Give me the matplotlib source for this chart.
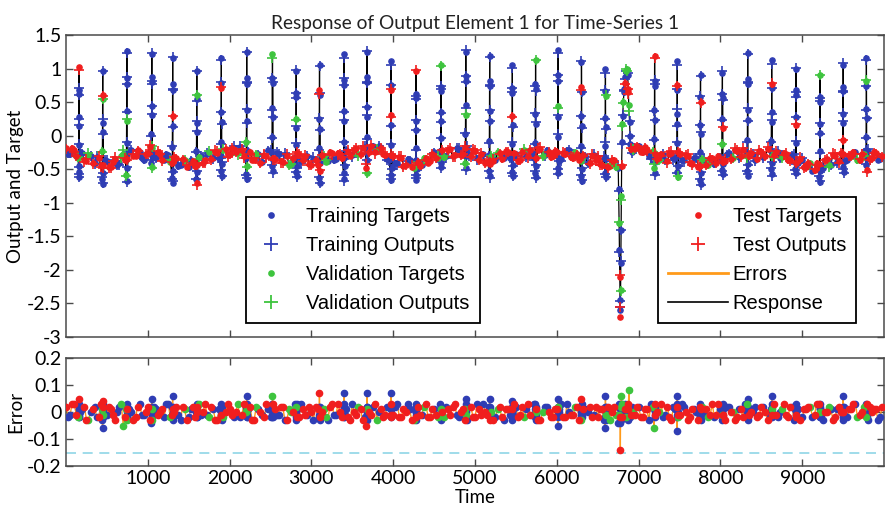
import numpy as np
import matplotlib
matplotlib.use("Agg")
import matplotlib.pyplot as plt
from matplotlib.lines import Line2D

# ---------------- data ----------------
title_text = "Response of Output Element 1 for Time-Series 1"
x_ticks = [1000, 2000, 3000, 4000, 5000, 6000, 7000, 8000, 9000]
y1_ticks = [-3, -2.5, -2, -1.5, -1, -0.5, 0, 0.5, 1, 1.5]
y1_labels = ["-3", "-2.5", "-2", "-1.5", "-1", "-0.5", "0", "0.5", "1", "1.5"]
y2_ticks = [-0.2, -0.1, 0, 0.1, 0.2]
y2_labels = ["-0.2", "-0.1", "0", "0.1", "0.2"]
error_ref_level = -0.15

# baseline samples, grid A at t = 1 + 50k, grid B at t = 26 + 50k
base_step = 50
base_a_start = 1
base_b_start = 26
base_a_values = [
    -0.18, -0.27, -0.22, -0.34, -0.26, -0.38, -0.31, -0.40, -0.33, -0.44,
    -0.38, -0.47, -0.35, -0.41, -0.27, -0.35, -0.22, -0.30, -0.24, -0.36,
    -0.26, -0.19, -0.33, -0.27, -0.36, -0.29, -0.40, -0.33, -0.44, -0.36,
    -0.47, -0.38, -0.43, -0.31, -0.37, -0.25, -0.34, -0.26, -0.31, -0.20,
    -0.27, -0.18, -0.26, -0.21, -0.33, -0.25, -0.37, -0.28, -0.39, -0.30,
    -0.24, -0.35, -0.28, -0.39, -0.31, -0.42, -0.34, -0.29, -0.37, -0.31,
    -0.44, -0.36, -0.41, -0.30, -0.38, -0.26, -0.35, -0.27, -0.33, -0.24,
    -0.29, -0.19, -0.27, -0.17, -0.25, -0.16, -0.23, -0.18, -0.29, -0.36,
    -0.31, -0.40, -0.33, -0.44, -0.37, -0.48, -0.39, -0.43, -0.33, -0.38,
    -0.25, -0.33, -0.22, -0.31, -0.20, -0.29, -0.21, -0.27, -0.19, -0.30,
    -0.23, -0.36, -0.28, -0.39, -0.31, -0.37, -0.26, -0.34, -0.24, -0.33,
    -0.28, -0.37, -0.22, -0.30, -0.26, -0.33, -0.20, -0.29, -0.24, -0.31,
    -0.25, -0.35, -0.28, -0.22, -0.33, -0.27, -0.38, -0.31, -0.40, -0.29,
    -0.33, -0.43, -0.35, -0.45, -0.37, -0.48, 0.18, 0.97, -0.12, -0.19,
    -0.16, -0.25, -0.22, -0.32, -0.27, -0.36, -0.29, -0.38, -0.26, -0.33,
    -0.27, -0.37, -0.31, -0.42, -0.34, -0.45, -0.36, -0.44, -0.33, -0.41,
    -0.32, -0.38, -0.26, -0.34, -0.23, -0.31, -0.22, -0.30, -0.27, -0.35,
    -0.24, -0.31, -0.21, -0.29, -0.25, -0.32, -0.27, -0.36, -0.30, -0.40,
    -0.36, -0.46, -0.41, -0.51, -0.42, -0.48, -0.35, -0.43, -0.30, -0.38,
    -0.27, -0.37, -0.30, -0.25, -0.36, -0.28, -0.23, -0.34, -0.26, -0.35,
]
base_b_values = [
    -0.28, -0.19, -0.31, -0.25, -0.37, -0.29, -0.41, -0.32, -0.43, -0.37,
    -0.46, -0.39, -0.44, -0.30, -0.36, -0.24, -0.31, -0.21, -0.33, -0.27,
    -0.17, -0.28, -0.24, -0.37, -0.28, -0.39, -0.32, -0.45, -0.35, -0.46,
    -0.37, -0.45, -0.32, -0.40, -0.27, -0.35, -0.24, -0.33, -0.22, -0.29,
    -0.19, -0.25, -0.17, -0.31, -0.23, -0.36, -0.27, -0.40, -0.29, -0.22,
    -0.33, -0.26, -0.38, -0.29, -0.43, -0.33, -0.26, -0.38, -0.30, -0.42,
    -0.35, -0.43, -0.29, -0.39, -0.25, -0.36, -0.26, -0.34, -0.22, -0.30,
    -0.21, -0.28, -0.18, -0.26, -0.15, -0.24, -0.15, -0.27, -0.35, -0.29,
    -0.41, -0.32, -0.45, -0.35, -0.47, -0.37, -0.45, -0.34, -0.40, -0.27,
    -0.34, -0.23, -0.32, -0.21, -0.30, -0.19, -0.29, -0.18, -0.28, -0.22,
    -0.34, -0.27, -0.40, -0.29, -0.38, -0.25, -0.35, -0.23, -0.34, -0.26,
    -0.38, -0.24, -0.31, -0.22, -0.34, -0.21, -0.30, -0.22, -0.32, -0.23,
    -0.34, -0.26, -0.21, -0.32, -0.25, -0.37, -0.29, -0.41, -0.30, -0.36,
    -0.42, -0.34, -0.46, -0.36, -0.46, -2.60, 0.70, 0.65, -0.22, -0.15,
    -0.24, -0.17, -0.31, -0.23, -0.35, -0.28, -0.37, -0.27, -0.34, -0.25,
    -0.36, -0.29, -0.41, -0.33, -0.46, -0.35, -0.43, -0.34, -0.42, -0.31,
    -0.39, -0.27, -0.35, -0.22, -0.32, -0.21, -0.31, -0.26, -0.36, -0.23,
    -0.32, -0.20, -0.30, -0.24, -0.33, -0.26, -0.37, -0.29, -0.41, -0.35,
    -0.47, -0.40, -0.52, -0.41, -0.49, -0.36, -0.44, -0.29, -0.39, -0.26,
    -0.38, -0.29, -0.24, -0.37, -0.27, -0.22, -0.35, -0.25, -0.36, -0.30,
]
# errors in hundredths
base_a_err = [
    2, -1, 3, -2, 1, -3, 0, 2, -2, 4,
    -1, 1, -3, 2, -5, 1, 0, -2, 3, -1,
    2, -3, 1, 0, -2, 3, -1, 2, -3, 1,
    -2, 2, 0, -1, 3, -2, 1, -3, 2, 0,
    1, -2, 3, -1, 0, 2, -3, 1, -1, 3,
    -2, 1, -1, 2, -3, 0, 3, -2, 1, -1,
    0, 2, -2, 1, -3, 3, -1, 0, 2, -2,
    3, -1, 1, -2, 0, 2, -3, 1, -1, 2,
    -1, 3, -2, 0, 1, -3, 2, -1, 3, -2,
    1, -2, 0, 2, -1, 3, -2, 1, -3, 2,
    -2, 1, 3, -1, 0, -2, 2, -3, 1, 0,
    2, -1, -2, 3, -1, 1, -3, 2, 0, -2,
    1, 3, -2, 0, -1, 2, -3, 1, 2, -1,
    -2, 1, 0, -3, 2, -4, 3, -2, 1, -1,
    2, -2, 1, 3, -1, 0, -2, 2, -3, 1,
    -1, 2, -3, 1, 0, 2, -1, -2, 3, -1,
    1, -3, 2, 0, -2, 1, 3, -1, 0, -2,
    2, 0, -1, 3, -2, 1, -1, 2, -3, 1,
    -2, 1, 2, -1, 3, -3, 0, 1, -2, 2,
    0, -2, 1, 3, -1, 2, -3, 0, 1, -2,
]
base_b_err = [
    -2, 3, -1, 0, 2, -3, 1, -2, 3, -1,
    2, -1, 0, 3, -2, 1, -3, 2, -1, 0,
    -3, 2, -1, 1, 3, -2, 0, -1, 2, -3,
    1, -2, 3, 0, -1, 2, -3, 1, -2, 3,
    -1, 0, -2, 3, 1, -3, 2, 0, -2, 1,
    3, -1, 2, -3, 1, 0, -2, 3, -1, 2,
    -3, 1, 0, -2, 2, -1, 3, -2, 1, -3,
    0, 2, -3, 1, -1, 3, 0, -2, 2, -1,
    2, -2, 1, 3, -3, 0, -1, 2, -2, 1,
    -1, 3, -2, 1, 2, -1, 0, -3, 2, -2,
    3, -1, 0, 2, -3, 1, -2, 1, -1, 3,
    -2, 2, 1, -1, 3, -3, 0, 2, -2, 1,
    0, -2, 3, -1, 2, -3, 1, 0, -2, 2,
    1, -3, 2, 0, -1, -4, 2, 3, -1, 2,
    -2, 1, -3, 2, 0, 3, -1, -2, 2, -1,
    3, 0, -2, 1, -3, 2, 1, -1, -2, 3,
    -1, 2, 0, -3, 1, -2, 3, 0, 2, -1,
    2, -3, 1, -1, 0, 3, -2, 2, -1, -3,
    1, 2, -2, 3, -1, 0, 2, -3, 1, 0,
    -2, 1, 3, -2, 0, -1, 2, 1, -3, 2,
]
# data division: T = training, V = validation, S = test
base_a_split = (
    "STSVTSTTSS" "TSSTVSTSTT" "SVTSTTSSTV" "TSSTSVTSTS" "STVSTSSTTS"
    "TSTSSVTSST" "SSTVTSTSTS" "TSSTSTVSST" "STSSTVSTSS" "TVSTSSTSTS"
    "SSTSVTSTST" "TSVSTSSTSS" "STSTSSVTST" "SSTVSTVVTS" "TSSTSVTSST"
    "STSSTSTVSS" "TSTVSSTSTS" "SSTSTVSSTT" "TSVSSTSTSS" "STSTSVTSST"
)
base_b_split = (
    "TSSTSVSTST" "SSTVSTSSTS" "STSSTVSTSS" "TSVSTSSTVS" "SSTSTSVSST"
    "STSTVSSTSS" "TSSVSTSSTS" "SVSTSSTSTS" "TSSTSTSVSS" "STVSSTSSTS"
    "TSSTSVSSTS" "SSTSTSVTSS" "TSTSVSSTSS" "STSSVTTSVS" "SSTVSSTSTS"
    "TSSTSVSSTS" "STSSTSVSTS" "TSVSTSSTSS" "SSTSTSVSTS" "TSSVSTSSTS"
)

spike_times = [160, 450, 745, 1050, 1305, 1600, 1900, 2210, 2525, 2815,
               3100, 3400, 3680, 3975, 4280, 4585, 4888, 5180, 5457, 5741,
               6017, 6302, 6595, 7196, 7473, 7757, 8025, 8334, 8627, 8924,
               9217, 9501, 9785]
spike_peaks = [1.03, 0.96, 1.26, 1.22, 1.15, 0.96, 1.15, 1.25, 1.22, 0.97,
               1.05, 1.22, 1.25, 1.12, 0.96, 1.05, 1.25, 1.18, 1.05, 1.13,
               1.28, 1.10, 1.00, 1.18, 1.12, 0.91, 0.94, 1.23, 1.13, 1.00,
               0.90, 1.06, 1.16]
# shape of one pulse: sample offsets and level as
# a fraction of the rise from the local baseline to the peak
pulse_offsets = [-6, -4, -2, -1, 0, 1, 2, 4, 6]
pulse_shape = [-0.15, 0.15, 0.45, 0.75, 1.0, 0.7, 0.35, -0.2, -0.08]
spike_split = [
    "TTTTSTTTT", "TVTSTVTTT", "VTTTTTVTT", "TTTTTTTVT", "TTSTTTTTT",
    "TTTVTTTST", "TTTTTSTTT", "TVTTTTTTV", "TTTTVTTTT", "TTVTTTTTT",
    "TTTSTTTTS", "TTTTTTTTT", "STTTTTTVT", "TTSTTSTTT", "TTTTSTTTT",
    "TTTTVTTTT", "VTTTTTVTT", "TTTTTTTTS", "TTSTTTTTT", "TTTTVTTTT",
    "TTVTTTTTT", "TTTSTTTTT", "TTTTTVTTT", "VTTTSTTTT", "TTTSTTTVT",
    "TTTTTSTTT", "TVTTTTSTT", "TTTTTTTTT", "TTTSTTTTT", "TTTTTTSTT",
    "TTTTVTTTT", "TSTTTTTTT", "TTTVTTTST",
]
spike_err = [
    [2, -1, 3, -2, 5, 1, -2, 0, 1],
    [-3, 1, -6, 2, 0, -1, 3, -2, 1],
    [1, -2, 2, -1, 3, 0, -3, 2, -1],
    [-4, 2, 0, 5, -1, 2, -2, 1, 0],
    [2, -1, 1, 6, -2, 0, 1, -3, 2],
    [0, 2, -2, 1, -1, 3, -1, 2, -2],
    [-1, 3, 0, -2, 2, -1, 2, 0, -3],
    [2, 0, -2, 6, 1, -1, 3, -2, 1],
    [-2, 1, 3, -1, 6, -2, 0, 2, -1],
    [1, -3, 2, 0, -1, 2, -2, 1, 3],
    [-1, 2, -2, 7, 1, -3, 2, 0, -2],
    [2, -1, 1, -2, 7, 0, -2, 3, -1],
    [-5, 2, 0, 7, -1, 2, -3, 1, 0],
    [1, -2, 3, -1, 7, -2, 1, -1, 2],
    [0, 2, -1, 3, -2, 1, 0, -3, 2],
    [-2, 1, 2, -1, 1, -3, 2, 1, -1],
    [1, -1, 5, 0, -2, 2, -1, 3, -2],
    [-1, 2, -2, 5, 1, -1, 0, 2, -3],
    [2, -3, 1, 0, 4, -2, 3, -1, 1],
    [-2, 1, -1, 3, 0, 2, -3, 1, -1],
    [1, -5, 2, -1, 5, 0, -2, 2, 1],
    [-1, 2, 0, 5, -2, 1, 3, -1, -2],
    [2, -6, 1, -2, 6, -1, 2, 0, -3],
    [-6, 1, 2, -1, 3, -2, 0, 2, 1],
    [1, -2, -7, 2, 6, -1, 3, -2, 0],
    [-1, 3, 0, -2, 2, 1, -3, 2, -1],
    [2, -1, 2, 0, -3, 3, -1, 1, -2],
    [0, 2, -2, 5, 1, -1, 2, -3, 1],
    [-2, 1, 3, -1, 6, 0, -2, 2, -1],
    [1, -2, 0, 2, -1, 3, -2, 1, 2],
    [-1, 3, -2, 1, 0, -2, 2, -1, 1],
    [2, 0, -1, 6, -2, 1, -3, 2, -1],
    [-1, 2, 1, -2, 3, 0, -1, 3, -2],
]

# the large excursion near t = 6780
event_times = [6756, 6762, 6766, 6770, 6774, 6777, 6780, 6783, 6786, 6789,
               6793, 6797, 6806, 6814, 6822, 6830, 6838, 6845, 6858, 6866,
               6874, 6882, 6890, 6896, 6908, 6920, 6935]
event_values = [-0.8, -1.3, -1.7, -2.1, -2.45, -2.7, -2.3, -1.9, -1.4, -0.9,
                -0.45, -0.1, 0.3, 0.5, 0.65, 0.78, 0.88, 0.95, 0.99, 0.9,
                0.7, 0.45, 0.2, 0.0, -0.2, -0.24, -0.2]
event_err = [2, -1, 3, -2, 1, -14, 2, -3, 1, 6, -2, 3, -1, 2, -2, 1, 3, -1,
             2, -3, 1, 8, -2, 1, -1, 2, 0]
event_split = "TVTSTSVTTVSTTVTSTTVTSVTTSTV"

# ---------------- assemble samples ----------------
base_a_t = base_a_start + base_step * np.arange(len(base_a_values))
base_b_t = base_b_start + base_step * np.arange(len(base_b_values))
base_a_v = np.array(base_a_values)

t_list, y_list, e_list, s_list = [], [], [], []
for bt, bv, be, bs in ((base_a_t, base_a_values, base_a_err, base_a_split),
                       (base_b_t, base_b_values, base_b_err, base_b_split)):
    t_list += list(bt)
    y_list += list(bv)
    e_list += list(np.array(be) / 100.0)
    s_list += list(bs)

for st, pk, sp, er in zip(spike_times, spike_peaks, spike_split, spike_err):
    b = base_a_v[int(np.argmin(np.abs(base_a_t - st)))]
    for off, fr, c, ee in zip(pulse_offsets, pulse_shape, sp, er):
        t_list.append(st + off)
        y_list.append(b + fr * (pk - b))
        e_list.append(ee / 100.0)
        s_list.append(c)

t_list += event_times
y_list += event_values
e_list += list(np.array(event_err) / 100.0)
s_list += list(event_split)

order = np.argsort(np.array(t_list, float), kind="stable")
T = np.array(t_list, float)[order]
Y = np.array(y_list)[order]
E = np.array(e_list)[order]
S = np.array(s_list)[order]
OUT = Y - E

# ---------------- styling ----------------
col = {"T": "#2f3db4", "V": "#3ec43e", "S": "#f01e1e"}
err_col = "#ff9a1a"
font_main = "Lato"
font_leg = "Liberation Sans"
ax_col = "#4a4a4a"

fig = plt.figure(figsize=(8.85, 5.08), dpi=100, facecolor="white")
W, H = 885.0, 508.0
ax1 = fig.add_axes([66 / W, 1 - 337 / H, (884 - 66) / W, (337 - 35) / H])
ax2 = fig.add_axes([66 / W, 1 - 466 / H, (884 - 66) / W, (466 - 358) / H])

# top panel
ax1.plot(T, OUT, color="black", lw=0.9, zorder=2)
for k in ["T", "V", "S"]:
    m = S == k
    ax1.plot(T[m], Y[m], ls="none", marker=".", ms=7.5, color=col[k], zorder=3)
    ax1.plot(T[m], OUT[m], ls="none", marker="+", ms=7, mew=1.2, color=col[k], zorder=3)

# bottom panel
ax2.axhline(error_ref_level, color="#8fd6e6", lw=1.2, ls=(0, (6, 4)), zorder=1)
ax2.plot(T, E, color=err_col, lw=1.0, zorder=2)
for k in ["T", "V", "S"]:
    m = S == k
    ax2.plot(T[m], E[m], ls="none", marker=".", ms=9, color=col[k], zorder=3)

for ax in (ax1, ax2):
    ax.set_xlim(1, 10000)
    ax.set_xticks(x_ticks)
    ax.tick_params(direction="in", top=True, right=True, length=5, width=1,
                   color=ax_col, labelsize=14, pad=3)
    for sp in ax.spines.values():
        sp.set_color(ax_col)
        sp.set_linewidth(1.1)

ax1.set_ylim(-3, 1.5)
ax1.set_yticks(y1_ticks)
ax1.set_yticklabels(y1_labels, fontfamily=font_main)
ax1.set_xticklabels([])
ax2.set_ylim(-0.2, 0.2)
ax2.set_yticks(y2_ticks)
ax2.set_yticklabels(y2_labels, fontfamily=font_main)
ax2.set_xticklabels([str(v) for v in x_ticks], fontfamily=font_main)

ax1.set_title(title_text, fontfamily=font_main, fontsize=13.8, pad=4, color="#222222")
ax1.set_ylabel("Output and Target", fontfamily=font_main, fontsize=13.5, labelpad=2)
ax2.set_ylabel("Error", fontfamily=font_main, fontsize=13.5, labelpad=2)
ax2.set_xlabel("Time", fontfamily=font_main, fontsize=13.5, labelpad=1)

# legends
def mk(c, m, ms):
    return Line2D([], [], ls="none", marker=m, color=c, ms=ms, mew=1.3)

left_h = [mk(col["T"], ".", 7), mk(col["T"], "+", 10), mk(col["V"], ".", 7), mk(col["V"], "+", 10)]
left_l = ["Training Targets", "Training Outputs", "Validation Targets", "Validation Outputs"]
right_h = [mk(col["S"], ".", 7), mk(col["S"], "+", 10),
           Line2D([], [], color=err_col, lw=2), Line2D([], [], color="black", lw=1.2)]
right_l = ["Test Targets", "Test Outputs", "Errors", "Response"]

leg_kw = dict(frameon=True, fancybox=False, framealpha=1, edgecolor="black",
              borderaxespad=0, bbox_transform=fig.transFigure, loc="upper left",
              prop={"family": font_leg, "size": 14.5}, labelspacing=0.5,
              borderpad=0.5)
leg1 = ax1.legend(left_h, left_l, bbox_to_anchor=(246 / W, 1 - 197 / H),
                  handlelength=1.5, handletextpad=1.0, **leg_kw)
leg1.get_frame().set_linewidth(1.3)
ax1.add_artist(leg1)
leg2 = ax1.legend(right_h, right_l, bbox_to_anchor=(658 / W, 1 - 197 / H),
                  handlelength=3.0, handletextpad=0.2, **leg_kw)
leg2.get_frame().set_linewidth(1.3)

fig.savefig("out.png", dpi=100, facecolor="white")
